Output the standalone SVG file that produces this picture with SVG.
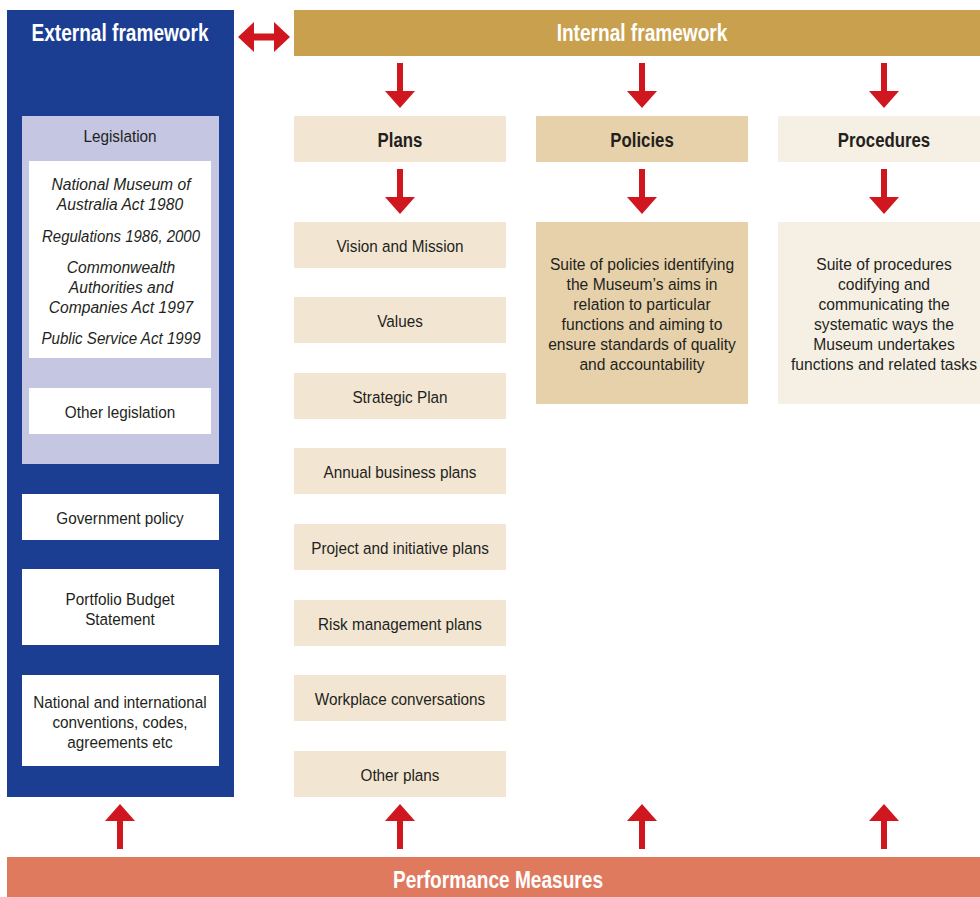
<svg xmlns="http://www.w3.org/2000/svg" width="980" height="897" viewBox="0 0 980 897">
<style>
text{font-family:"Liberation Sans",Arial,sans-serif;text-anchor:middle;fill:#231f20}
.t{font-size:17px}
.i{font-size:17px;font-style:italic}
.h{font-size:23px;font-weight:bold;fill:#fff}
.b{font-size:21px;font-weight:bold}
.wb{fill:#fff}
.pl{fill:#F2E6D3}
.red{fill:#D0161E}
</style>
<defs>
<path id="down" d="M-3,0 H3 V28 H15 L0,45 L-15,28 H-3 Z"/>
<path id="up" d="M-3,45 H3 V17 H15 L0,0 L-15,17 H-3 Z"/>
</defs>
<g id="external">
<rect x="7" y="10" width="227" height="787" fill="#1B3E93"/>
<text class="h" transform="translate(120 0) scale(0.83 1)" y="41">External framework</text>
</g>
<g id="legislation">
<rect x="22" y="116" width="197" height="348" fill="#C5C6E2"/>
<text class="t" transform="translate(120 0) scale(0.9 1)" y="142">Legislation</text>
<rect class="wb" x="29" y="161" width="182" height="197"/>
<text class="i" transform="translate(121 0) scale(0.92 1)" y="190">National Museum of</text>
<text class="i" transform="translate(120 0) scale(0.92 1)" y="210">Australia Act 1980</text>
<text class="i" transform="translate(121 0) scale(0.88 1)" y="242">Regulations 1986, 2000</text>
<text class="i" transform="translate(121 0) scale(0.92 1)" y="273">Commonwealth</text>
<text class="i" transform="translate(121 0) scale(0.92 1)" y="293">Authorities and</text>
<text class="i" transform="translate(121 0) scale(0.92 1)" y="313">Companies Act 1997</text>
<text class="i" transform="translate(121 0) scale(0.89 1)" y="344">Public Service Act 1999</text>
</g>
<g id="other-legislation">
<rect class="wb" x="29" y="388" width="182" height="46"/>
<text class="t" transform="translate(120 0) scale(0.9 1)" y="418">Other legislation</text>
</g>
<g id="government-policy">
<rect class="wb" x="22" y="494" width="197" height="46"/>
<text class="t" transform="translate(120 0) scale(0.9 1)" y="524">Government policy</text>
</g>
<g id="portfolio">
<rect class="wb" x="22" y="569" width="197" height="76"/>
<text class="t" transform="translate(120 0) scale(0.9 1)" y="605">Portfolio Budget</text>
<text class="t" transform="translate(120 0) scale(0.9 1)" y="625">Statement</text>
</g>
<g id="conventions">
<rect class="wb" x="22" y="675" width="197" height="91"/>
<text class="t" transform="translate(120 0) scale(0.9 1)" y="708">National and international</text>
<text class="t" transform="translate(120 0) scale(0.9 1)" y="728">conventions, codes,</text>
<text class="t" transform="translate(120 0) scale(0.9 1)" y="748">agreements etc</text>
</g>
<g id="internal">
<rect x="294" y="10" width="686" height="46" fill="#C9A04D"/>
<text class="h" transform="translate(642 0) scale(0.83 1)" y="41">Internal framework</text>
</g>
<g id="plans">
<rect class="pl" x="294" y="116" width="212" height="46"/>
<text class="b" transform="translate(400 0) scale(0.8 1)" y="147">Plans</text>
</g>
<g id="policies">
<rect x="536" y="116" width="212" height="46" fill="#E6D1AA"/>
<text class="b" transform="translate(642 0) scale(0.8 1)" y="147">Policies</text>
</g>
<g id="procedures">
<rect x="778" y="116" width="202" height="46" fill="#F6F0E4"/>
<text class="b" transform="translate(884 0) scale(0.8 1)" y="147">Procedures</text>
</g>
<g id="plan-items">
<rect class="pl" x="294" y="222" width="212" height="46"/><text class="t" transform="translate(400 0) scale(0.9 1)" y="252">Vision and Mission</text>
<rect class="pl" x="294" y="297" width="212" height="46"/><text class="t" transform="translate(400 0) scale(0.9 1)" y="327">Values</text>
<rect class="pl" x="294" y="373" width="212" height="46"/><text class="t" transform="translate(400 0) scale(0.9 1)" y="403">Strategic Plan</text>
<rect class="pl" x="294" y="448" width="212" height="46"/><text class="t" transform="translate(400 0) scale(0.9 1)" y="478">Annual business plans</text>
<rect class="pl" x="294" y="524" width="212" height="46"/><text class="t" transform="translate(400 0) scale(0.9 1)" y="554">Project and initiative plans</text>
<rect class="pl" x="294" y="600" width="212" height="46"/><text class="t" transform="translate(400 0) scale(0.9 1)" y="630">Risk management plans</text>
<rect class="pl" x="294" y="675" width="212" height="46"/><text class="t" transform="translate(400 0) scale(0.9 1)" y="705">Workplace conversations</text>
<rect class="pl" x="294" y="751" width="212" height="46"/><text class="t" transform="translate(400 0) scale(0.9 1)" y="781">Other plans</text>
</g>
<g id="policies-desc">
<rect x="536" y="222" width="212" height="182" fill="#E6D1AA"/>
<text class="t" transform="translate(642 0) scale(0.92 1)" y="270">Suite of policies identifying</text>
<text class="t" transform="translate(642 0) scale(0.92 1)" y="290">the Museum’s aims in</text>
<text class="t" transform="translate(642 0) scale(0.92 1)" y="310">relation to particular</text>
<text class="t" transform="translate(642 0) scale(0.92 1)" y="330">functions and aiming to</text>
<text class="t" transform="translate(642 0) scale(0.92 1)" y="350">ensure standards of quality</text>
<text class="t" transform="translate(642 0) scale(0.92 1)" y="370">and accountability</text>
</g>
<g id="procedures-desc">
<rect x="778" y="222" width="202" height="182" fill="#F6F0E4"/>
<text class="t" transform="translate(884 0) scale(0.92 1)" y="270">Suite of procedures</text>
<text class="t" transform="translate(884 0) scale(0.92 1)" y="290">codifying and</text>
<text class="t" transform="translate(884 0) scale(0.92 1)" y="310">communicating the</text>
<text class="t" transform="translate(884 0) scale(0.92 1)" y="330">systematic ways the</text>
<text class="t" transform="translate(884 0) scale(0.92 1)" y="350">Museum undertakes</text>
<text class="t" transform="translate(884 0) scale(0.92 1)" y="370">functions and related tasks</text>
</g>
<g id="performance">
<rect x="7" y="857" width="973" height="40" fill="#E07A5F"/>
<text class="h" transform="translate(498 0) scale(0.83 1)" y="888">Performance Measures</text>
</g>
<g id="connectors" class="red">
<path d="M238,37 L254,22 V33.5 H274 V22 L290,37 L274,52 V40.5 H254 V52 Z"/>
<use href="#down" x="400" y="63"/>
<use href="#down" x="642" y="63"/>
<use href="#down" x="884" y="63"/>
<use href="#down" x="400" y="169"/>
<use href="#down" x="642" y="169"/>
<use href="#down" x="884" y="169"/>
<use href="#up" x="120" y="804"/>
<use href="#up" x="400" y="804"/>
<use href="#up" x="642" y="804"/>
<use href="#up" x="884" y="804"/>
</g>
</svg>
